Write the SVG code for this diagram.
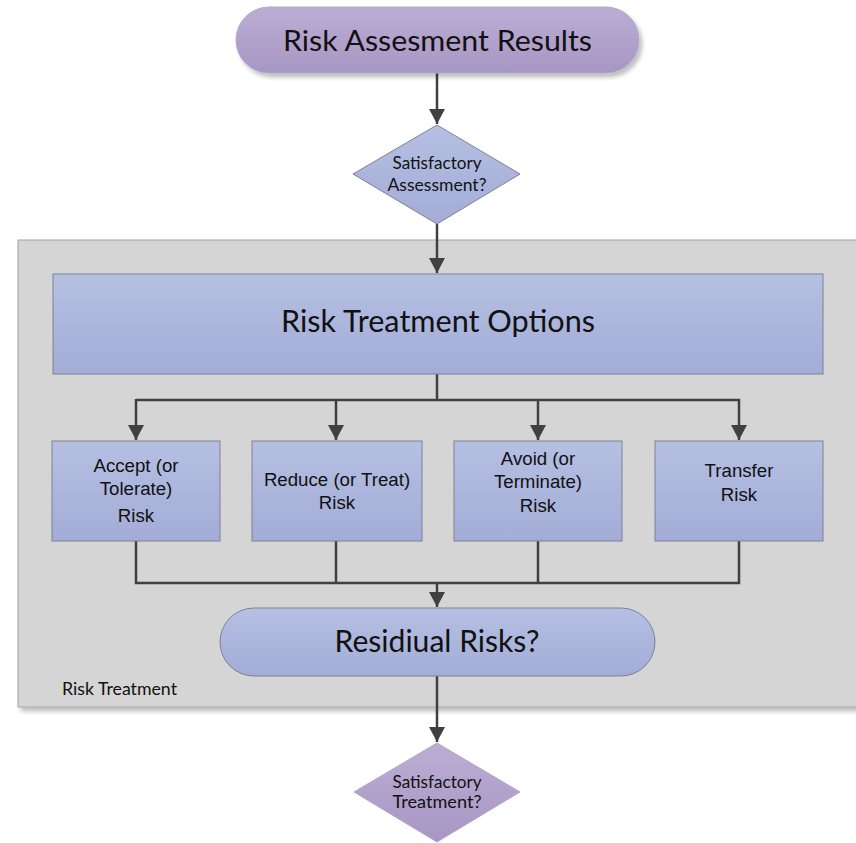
<svg xmlns="http://www.w3.org/2000/svg" width="856" height="843" viewBox="0 0 856 843">
<defs>
<linearGradient id="gPurple" x1="0" y1="0" x2="0" y2="1">
<stop offset="0" stop-color="#bbaed4"/><stop offset="1" stop-color="#a796c3"/>
</linearGradient>
<linearGradient id="gBlue" x1="0" y1="0" x2="0" y2="1">
<stop offset="0" stop-color="#b6c0e3"/><stop offset="1" stop-color="#a2acd6"/>
</linearGradient>
<filter id="shadow" x="-10%" y="-10%" width="130%" height="140%">
<feGaussianBlur in="SourceAlpha" stdDeviation="2"/>
<feOffset dx="3" dy="4" result="b"/>
<feComponentTransfer><feFuncA type="linear" slope="0.25"/></feComponentTransfer>
<feMerge><feMergeNode/><feMergeNode in="SourceGraphic"/></feMerge>
</filter>
<marker id="arr" markerUnits="userSpaceOnUse" markerWidth="18" markerHeight="16" refX="15" refY="8" orient="auto">
<path d="M0,0 L15,8 L0,16 Z" fill="#404040"/>
</marker>
</defs>
<style>
.cal{font-family:Lato,"Open Sans","Liberation Sans",sans-serif;fill:#111}
.ari{font-family:"Liberation Sans",Arial,sans-serif;font-size:18.67px;fill:#111}
.blue{fill:url(#gBlue);stroke:#7f8193;stroke-width:1}
.purple{fill:url(#gPurple);stroke:#b2a6c8;stroke-width:1}
.conn{fill:none;stroke:#404040;stroke-width:2.5}
</style>

<g id="container">
<rect x="18" y="240" width="850" height="467" fill="#d5d5d5" stroke="#a4a4a4" stroke-width="1" filter="url(#shadow)"/>
<text class="cal" x="62" y="695" font-size="17" textLength="115" lengthAdjust="spacingAndGlyphs">Risk Treatment</text>
</g>

<g id="connectors">
<line class="conn" x1="437" y1="73" x2="437" y2="124" marker-end="url(#arr)"/>
<line class="conn" x1="437" y1="224" x2="437" y2="273" marker-end="url(#arr)"/>
<line class="conn" x1="437" y1="374" x2="437" y2="400"/>
<line class="conn" x1="136" y1="400" x2="740" y2="400"/>
<line class="conn" x1="136" y1="399" x2="136" y2="440" marker-end="url(#arr)"/>
<line class="conn" x1="336" y1="399" x2="336" y2="440" marker-end="url(#arr)"/>
<line class="conn" x1="538" y1="399" x2="538" y2="440" marker-end="url(#arr)"/>
<line class="conn" x1="739" y1="399" x2="739" y2="440" marker-end="url(#arr)"/>
<polyline class="conn" points="136,541 136,583 739,583 739,541"/>
<line class="conn" x1="336" y1="541" x2="336" y2="583"/>
<line class="conn" x1="538" y1="541" x2="538" y2="583"/>
<line class="conn" x1="437" y1="582" x2="437" y2="607" marker-end="url(#arr)"/>
<line class="conn" x1="437" y1="676" x2="437" y2="742" marker-end="url(#arr)"/>
</g>

<g id="start">
<rect class="purple" x="236" y="7" width="403" height="66" rx="33" filter="url(#shadow)"/>
<text class="cal" x="437.5" y="51" font-size="29" text-anchor="middle" textLength="309" lengthAdjust="spacingAndGlyphs">Risk Assesment Results</text>
</g>

<g id="decision1">
<polygon class="blue" points="437,125 520,174 437,224 353,174"/>
<text class="cal" x="437" y="169" font-size="17" text-anchor="middle" textLength="89" lengthAdjust="spacingAndGlyphs">Satisfactory</text>
<text class="cal" x="437" y="191" font-size="17" text-anchor="middle" textLength="99" lengthAdjust="spacingAndGlyphs">Assessment?</text>
</g>

<g id="options">
<rect class="blue" x="53" y="274" width="770" height="100"/>
<text class="cal" x="438" y="332" font-size="30" text-anchor="middle" textLength="314" lengthAdjust="spacingAndGlyphs">Risk Treatment Options</text>
</g>

<g id="accept">
<rect class="blue" x="52" y="441" width="168" height="100"/>
<text class="ari" x="136" y="472" text-anchor="middle">Accept (or</text>
<text class="ari" x="136" y="495" text-anchor="middle">Tolerate)</text>
<text class="ari" x="136" y="522" text-anchor="middle">Risk</text>
</g>

<g id="reduce">
<rect class="blue" x="252" y="441" width="170" height="100"/>
<text class="ari" x="337" y="486" text-anchor="middle">Reduce (or Treat)</text>
<text class="ari" x="337" y="509" text-anchor="middle">Risk</text>
</g>

<g id="avoid">
<rect class="blue" x="454" y="441" width="168" height="100"/>
<text class="ari" x="538" y="465" text-anchor="middle">Avoid (or</text>
<text class="ari" x="538" y="488" text-anchor="middle">Terminate)</text>
<text class="ari" x="538" y="512" text-anchor="middle">Risk</text>
</g>

<g id="transfer">
<rect class="blue" x="655" y="441" width="168" height="100"/>
<text class="ari" x="739" y="477" text-anchor="middle">Transfer</text>
<text class="ari" x="739" y="501" text-anchor="middle">Risk</text>
</g>

<g id="residual">
<rect class="blue" x="220" y="608" width="435" height="68" rx="34"/>
<text class="cal" x="437" y="652" font-size="30" text-anchor="middle" textLength="205" lengthAdjust="spacingAndGlyphs">Residiual Risks?</text>
</g>

<g id="decision2">
<polygon class="purple" points="437,743 520,792 437,842 354,792" stroke="#9c8fb5"/>
<text class="cal" x="437" y="788" font-size="17" text-anchor="middle" textLength="89" lengthAdjust="spacingAndGlyphs">Satisfactory</text>
<text class="cal" x="437" y="808" font-size="17" text-anchor="middle" textLength="89" lengthAdjust="spacingAndGlyphs">Treatment?</text>
</g>
</svg>
